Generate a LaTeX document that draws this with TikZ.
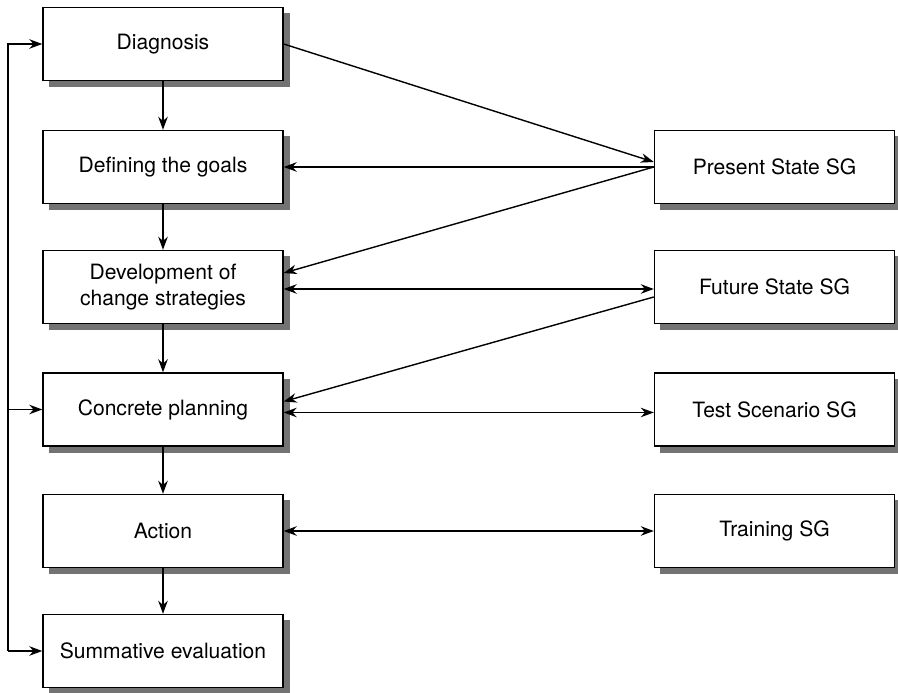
\documentclass[tikz,border=0pt]{standalone}
\usepackage{fontspec}
\setmainfont{TeX Gyre Heros}
\usepackage{tikz}
\usetikzlibrary{arrows.meta,calc}

\tikzset{
	stage/.style={draw, thick, fill=white, minimum width=4.8cm, minimum height=1.46cm,
		align=center, font=\fontsize{12}{14.5}\selectfont},
	shade box/.style={fill=black!55, draw=black!55},
	link/.style={thick, >={Stealth[length=2.6mm,width=1.9mm]}}
}

\begin{document}
\begin{tikzpicture}
	\useasboundingbox (0, 0) rectangle (17.96, 13.86);

	% grey shadows behind the boxes
	\foreach \cx/\cy in {3.26/12.98, 3.26/10.52, 3.26/8.12, 3.26/5.67, 3.26/3.24, 3.26/0.84,
		15.49/10.52, 15.49/8.12, 15.49/5.67, 15.49/3.24}
		\path[shade box] (\cx-2.28, \cy-0.85) rectangle (\cx+2.52, \cy+0.61);

	\node[stage] (diag) at (3.26, 12.98) {Diagnosis};
	\node[stage] (goals) at (3.26, 10.52) {Defining the goals};
	\node[stage] (dev) at (3.26, 8.12) {Development of\\change strategies};
	\node[stage] (plan) at (3.26, 5.67) {Concrete planning};
	\node[stage] (act) at (3.26, 3.24) {Action};
	\node[stage] (eval) at (3.26, 0.84) {Summative evaluation};

	\node[stage] (present) at (15.49, 10.52) {Present State SG};
	\node[stage] (future) at (15.49, 8.12) {Future State SG};
	\node[stage] (test) at (15.49, 5.67) {Test Scenario SG};
	\node[stage] (train) at (15.49, 3.24) {Training SG};

	\coordinate (loop) at (0.16, 0);

	\draw [link, ->] (diag) -- (goals);
	\draw [link, ->] (goals) -- (dev);
	\draw [link, ->] (dev) -- (plan);
	\draw [link, ->] (plan) -- (act);
	\draw [link, ->] (act) -- (eval);

	\draw [link, ->] (diag.east) -- ([yshift=0.1cm]present.west);
	\draw [link, ->] (present.west) -- (goals.east);
	\draw [link, ->] (present.west) -- ([yshift=0.28cm]dev.east);
	\draw [link, <->] ([yshift=-0.04cm]dev.east) -- ([yshift=-0.04cm]future.west);
	\draw [link, ->] ([yshift=-0.2cm]future.west) -- ([yshift=0.16cm]plan.east);
	\draw [link, <->] ([yshift=-0.06cm]plan.east) -- ([yshift=-0.06cm]test.west);
	\draw [link, <->] (act.east) -- (train.west);

	\draw [link, ->] (eval.west -| loop) |- (diag.west);
	\draw [link, ->] (plan.west -| loop) -- (plan.west);
	\draw [link, ->] (eval.west -| loop) -- (eval.west);
\end{tikzpicture}
\end{document}
